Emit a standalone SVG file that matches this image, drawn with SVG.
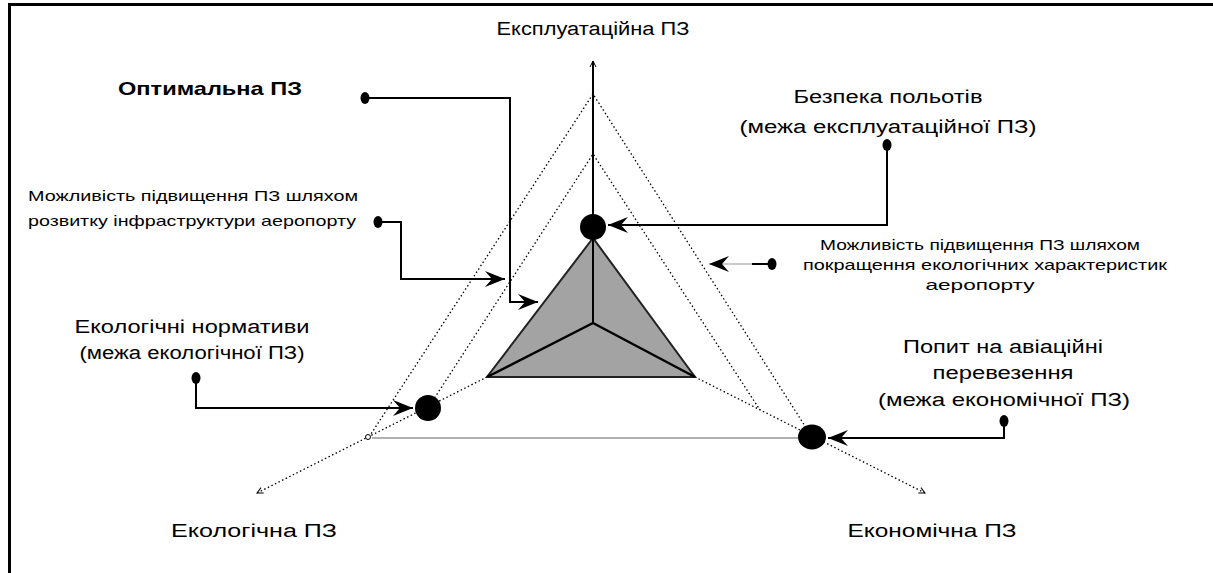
<svg xmlns="http://www.w3.org/2000/svg" width="1213" height="573" viewBox="0 0 1213 573">
<style>
text{font-family:"Liberation Sans",Arial,sans-serif;fill:#000}
.big{font-size:18px}
.small{font-size:15px}
.bold{font-size:19px;font-weight:bold}
.dot{stroke:#000;stroke-width:1.3;stroke-dasharray:1.5 2.5;fill:none}
.conn{stroke:#000;stroke-width:2;fill:none}
.axis{stroke:#000;stroke-width:2;fill:none}
</style>
<defs>
<marker id="ah" markerUnits="userSpaceOnUse" markerWidth="24" markerHeight="20" viewBox="-22 -10 24 20" refX="0" refY="0" orient="auto">
<path d="M0,0 L-20,-8 L-13,0 L-20,8 Z" fill="#000"/>
</marker>
<marker id="sa" markerUnits="userSpaceOnUse" markerWidth="10" markerHeight="10" viewBox="-8 -5 10 10" refX="0" refY="0" orient="auto">
<path d="M-6,-3 L0,0 L-6,3" fill="none" stroke="#000" stroke-width="1"/>
</marker>
</defs>
<rect width="1213" height="573" fill="#fff"/>
<g id="frame">
<line x1="8" y1="4.5" x2="1213" y2="4.5" stroke="#000" stroke-width="3"/>
<line x1="9.5" y1="3" x2="9.5" y2="573" stroke="#000" stroke-width="3"/>
</g>
<g id="chart">
<line x1="372" y1="438" x2="800" y2="438" stroke="#b0b0b0" stroke-width="2"/>
<polyline class="dot" points="369,437 593,94 812,437"/>
<polyline class="dot" points="428,408 593,154 760,410"/>
<line class="dot" x1="487" y1="377" x2="257" y2="493" marker-end="url(#sa)"/>
<line class="dot" x1="695" y1="377" x2="925" y2="493" marker-end="url(#sa)"/>
<polygon points="593,238 487,377 695,377" fill="#a3a3a3" stroke="#222" stroke-width="2"/>
<line class="axis" x1="593" y1="323" x2="593" y2="61" marker-end="url(#sa)"/>
<line x1="593" y1="323" x2="487" y2="377" stroke="#000" stroke-width="2.5"/>
<line x1="593" y1="323" x2="695" y2="377" stroke="#000" stroke-width="2.5"/>
<circle cx="368" cy="437" r="2.5" fill="#fff" stroke="#000" stroke-width="1"/>
<ellipse cx="593" cy="227" rx="13" ry="13" fill="#000"/>
<ellipse cx="428" cy="408" rx="13" ry="13" fill="#000"/>
<ellipse cx="812" cy="437" rx="14" ry="12.5" fill="#000"/>
</g>
<g id="axis-labels">
<text id="n-expl" class="big" x="593" y="35" text-anchor="middle" textLength="193" lengthAdjust="spacingAndGlyphs">Експлуатаційна ПЗ</text>
<text id="n-ecol" class="big" x="254" y="537" text-anchor="middle" textLength="166" lengthAdjust="spacingAndGlyphs">Екологічна ПЗ</text>
<text id="n-econ" class="big" x="932" y="537" text-anchor="middle" textLength="169" lengthAdjust="spacingAndGlyphs">Економічна ПЗ</text>
</g>
<g id="n-optimal">
<text class="bold" x="210" y="95" text-anchor="middle" textLength="184" lengthAdjust="spacingAndGlyphs">Оптимальна ПЗ</text>
<ellipse cx="365" cy="98" rx="4.5" ry="6" fill="#000"/>
</g>
<g id="n-safety">
<text class="big" x="888" y="103" text-anchor="middle" textLength="189" lengthAdjust="spacingAndGlyphs">Безпека польотів</text>
<text class="big" x="888" y="133" text-anchor="middle" textLength="297" lengthAdjust="spacingAndGlyphs">(межа експлуатаційної ПЗ)</text>
<ellipse cx="887" cy="145" rx="4.5" ry="6" fill="#000"/>
</g>
<g id="n-infra">
<text class="small" x="28" y="201" textLength="330" lengthAdjust="spacingAndGlyphs">Можливість підвищення ПЗ шляхом</text>
<text class="small" x="28" y="226" textLength="328" lengthAdjust="spacingAndGlyphs">розвитку інфраструктури аеропорту</text>
<ellipse cx="378" cy="222" rx="4.5" ry="6" fill="#000"/>
</g>
<g id="n-ecochar">
<text class="small" x="980" y="250" text-anchor="middle" textLength="320" lengthAdjust="spacingAndGlyphs">Можливість підвищення ПЗ шляхом</text>
<text class="small" x="985" y="270" text-anchor="middle" textLength="364" lengthAdjust="spacingAndGlyphs">покращення екологічних характеристик</text>
<text class="small" x="980" y="290" text-anchor="middle" textLength="109" lengthAdjust="spacingAndGlyphs">аеропорту</text>
<ellipse cx="772" cy="264" rx="4.5" ry="6" fill="#000"/>
</g>
<g id="n-econorm">
<text class="big" x="192" y="333" text-anchor="middle" textLength="235" lengthAdjust="spacingAndGlyphs">Екологічні нормативи</text>
<text class="big" x="192" y="359" text-anchor="middle" textLength="225" lengthAdjust="spacingAndGlyphs">(межа екологічної ПЗ)</text>
<ellipse cx="196" cy="378" rx="4.5" ry="6" fill="#000"/>
</g>
<g id="n-demand">
<text class="big" x="1003" y="353" text-anchor="middle" textLength="200" lengthAdjust="spacingAndGlyphs">Попит на авіаційні</text>
<text class="big" x="1003" y="379" text-anchor="middle" textLength="141" lengthAdjust="spacingAndGlyphs">перевезення</text>
<text class="big" x="1004" y="406" text-anchor="middle" textLength="252" lengthAdjust="spacingAndGlyphs">(межа економічної ПЗ)</text>
<ellipse cx="1004" cy="421" rx="4.5" ry="6" fill="#000"/>
</g>
<g id="connectors">
<polyline class="conn" points="365,98 510,98 510,302 538,302" marker-end="url(#ah)"/>
<polyline class="conn" points="378,222 401,222 401,279 505,279" marker-end="url(#ah)"/>
<polyline class="conn" points="887,145 887,225 608,225" marker-end="url(#ah)"/>
<line x1="772" y1="264" x2="752" y2="264" stroke="#000" stroke-width="2"/>
<line x1="752" y1="264" x2="709" y2="264" stroke="#bbb" stroke-width="1.5" marker-end="url(#ah)"/>
<polyline class="conn" points="196,378 196,408 413,408" marker-end="url(#ah)"/>
<polyline class="conn" points="1004,421 1004,438 828,438" marker-end="url(#ah)"/>
</g>
</svg>
